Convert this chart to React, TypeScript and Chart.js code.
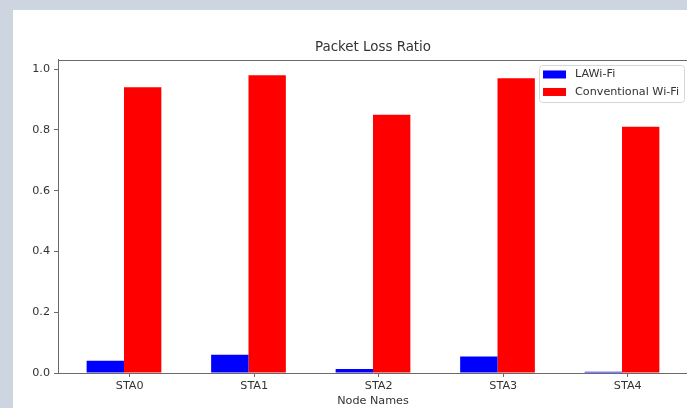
import React, { useEffect, useRef } from 'react';
import { Chart, registerables } from 'chart.js';

Chart.register(...registerables);

// ---- data ----
const CATEGORIES = ['STA0', 'STA1', 'STA2', 'STA3', 'STA4'];
const LAWIFI = [0.04, 0.06, 0.013, 0.054, 0.004];
const CONVENTIONAL = [0.94, 0.98, 0.85, 0.97, 0.81];
const SERIES_LABELS = ['LAWi-Fi', 'Conventional Wi-Fi'];
const Y_TICKS = [0, 0.2, 0.4, 0.6, 0.8, 1.0];
const TITLE = 'Packet Loss Ratio';
const X_TITLE = 'Node Names';

// ---- axis / style settings ----
const X_MIN = -0.53;
const X_MAX = 4.53;
const Y_MAX = 1.03;
const TICK_SHIFT = 0.046;
const SPINE = '#6a6a6a';
const TEXT = '#333333';
const FONT = '"DejaVu Sans", sans-serif';
const SMALL = 11.2;
const BIG = 13.4;

const framePlugin = {
  id: 'frameAndLegend',
  afterDatasetsDraw(chart: any) {
    const { ctx, chartArea: a } = chart;
    ctx.save();
    // top spine
    ctx.strokeStyle = SPINE;
    ctx.lineWidth = 1;
    ctx.beginPath();
    const ty = Math.round(a.top) + 0.5;
    ctx.moveTo(a.left, ty);
    ctx.lineTo(a.right, ty);
    ctx.stroke();

    // legend (upper right inside the plot)
    const ds = chart.data.datasets;
    ctx.font = `${SMALL}px ${FONT}`;
    const textW = Math.max(...ds.map((d: any) => ctx.measureText(d.label).width));
    const padL = 4, swW = 23, swH = 8, gap = 9, padR = 5, rowH = 17.5, padT = 9.5, padB = 10;
    const w = padL + swW + gap + textW + padR;
    const h = padT + rowH * (ds.length - 1) + padB;
    const right = a.right - 4;
    const top = a.top + 5;
    const left = right - w;
    ctx.beginPath();
    (ctx as any).roundRect(left + 0.5, top + 0.5, w, h, 3);
    ctx.fillStyle = 'rgba(255,255,255,0.85)';
    ctx.fill();
    ctx.strokeStyle = '#d6d6d6';
    ctx.stroke();
    ctx.textBaseline = 'middle';
    ctx.textAlign = 'left';
    ds.forEach((d: any, i: number) => {
      const cy = top + padT + rowH * i;
      ctx.fillStyle = d.backgroundColor;
      ctx.fillRect(left + padL, cy - swH / 2, swW, swH);
      ctx.fillStyle = TEXT;
      ctx.fillText(d.label, left + padL + swW + gap, cy);
    });
    ctx.restore();
  },
};

export default function App() {
  const ref = useRef<HTMLCanvasElement | null>(null);

  useEffect(() => {
    if (!ref.current) return;
    Chart.defaults.font.family = FONT;
    const chart = new Chart(ref.current, {
      type: 'bar',
      data: {
        datasets: [
          {
            label: SERIES_LABELS[0],
            data: LAWIFI.map((v, i) => ({ x: i, y: v })),
            backgroundColor: '#0000ff',
            borderWidth: 0,
          },
          {
            label: SERIES_LABELS[1],
            data: CONVENTIONAL.map((v, i) => ({ x: i, y: v })),
            backgroundColor: '#ff0000',
            borderWidth: 0,
          },
        ],
      },
      options: {
        responsive: false,
        animation: false,
        devicePixelRatio: 1,
        categoryPercentage: 0.6,
        barPercentage: 1.0,
        layout: { padding: { left: 0, top: 0, right: 45, bottom: 0 } },
        plugins: {
          legend: { display: false },
          tooltip: { enabled: false },
          title: {
            display: true,
            fullSize: false,
            text: TITLE,
            color: TEXT,
            font: { size: BIG, weight: 'normal', family: FONT },
            padding: { top: 29, bottom: 4.9 },
          },
        },
        scales: {
          x: {
            type: 'linear',
            min: X_MIN,
            max: X_MAX,
            offset: false,
            bounds: 'data',
            afterFit: (s: any) => {
              s.height = 35;
            },
            afterBuildTicks: (s: any) => {
              s.ticks = CATEGORIES.map((_, i) => ({ value: i + TICK_SHIFT }));
            },
            ticks: {
              autoSkip: false,
              maxRotation: 0,
              padding: 2,
              color: TEXT,
              font: { size: SMALL, family: FONT },
              callback: (_v: any, idx: number) => CATEGORIES[idx],
            },
            grid: {
              display: true,
              drawOnChartArea: false,
              drawTicks: true,
              tickLength: 4,
              color: SPINE,
              offset: false,
            },
            border: { display: true, color: SPINE, width: 1 },
            title: {
              display: true,
              text: X_TITLE,
              color: TEXT,
              font: { size: SMALL, family: FONT },
              padding: { top: 0, bottom: 0 },
            },
          },
          y: {
            type: 'linear',
            min: 0,
            max: Y_MAX,
            afterFit: (s: any) => {
              s.width = 45;
            },
            afterBuildTicks: (s: any) => {
              s.ticks = Y_TICKS.map((v) => ({ value: v }));
            },
            ticks: {
              padding: 4,
              color: TEXT,
              font: { size: SMALL, family: FONT },
              callback: (v: any) => Number(v).toFixed(1),
            },
            grid: {
              display: true,
              drawOnChartArea: false,
              drawTicks: true,
              tickLength: 4,
              color: SPINE,
            },
            border: { display: true, color: SPINE, width: 1 },
          },
        },
      } as any,
      plugins: [framePlugin],
    });
    return () => chart.destroy();
  }, []);

  return (
    <div style={{ position: 'fixed', inset: 0, background: '#cdd6e0', overflow: 'hidden' }}>
      <div
        style={{
          position: 'absolute',
          left: 13,
          top: 10,
          right: 0,
          bottom: 0,
          background: '#ffffff',
          overflow: 'hidden',
        }}
      >
        <canvas ref={ref} width={720} height={398} style={{ display: 'block' }} />
      </div>
    </div>
  );
}
